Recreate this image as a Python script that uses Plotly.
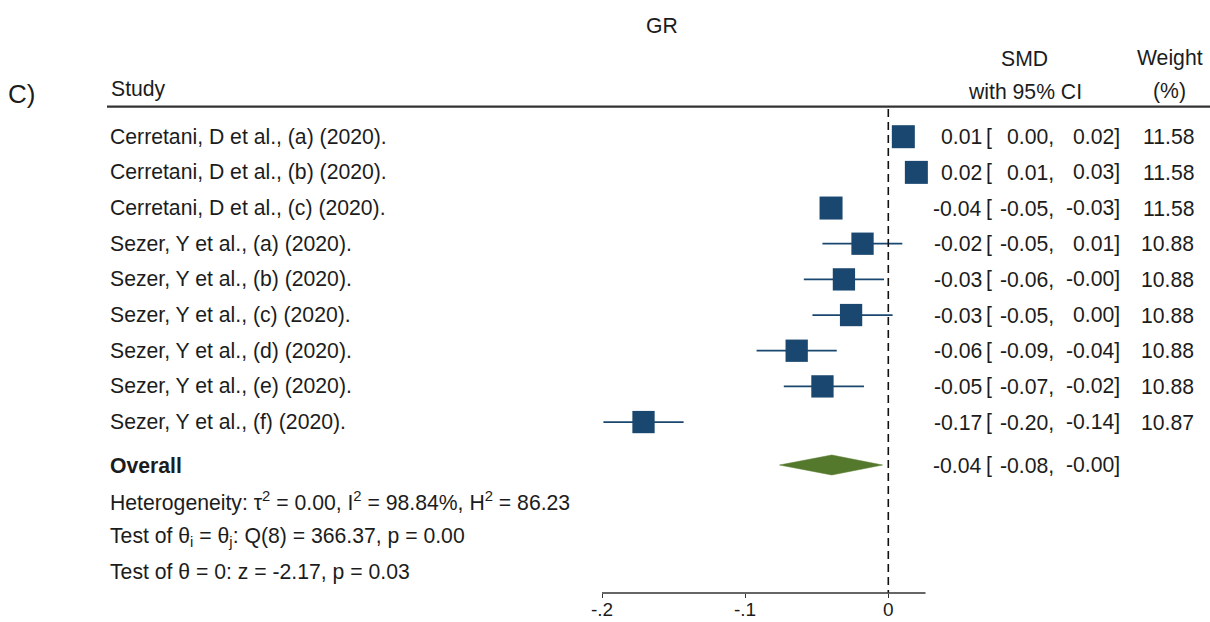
import numpy as np
import plotly.graph_objects as go

# ---------------- data ----------------
studies = [
    "Cerretani, D et al., (a) (2020).",
    "Cerretani, D et al., (b) (2020).",
    "Cerretani, D et al., (c) (2020).",
    "Sezer, Y et al., (a) (2020).",
    "Sezer, Y et al., (b) (2020).",
    "Sezer, Y et al., (c) (2020).",
    "Sezer, Y et al., (d) (2020).",
    "Sezer, Y et al., (e) (2020).",
    "Sezer, Y et al., (f) (2020).",
]
smd = [0.0105, 0.0196, -0.040, -0.018, -0.031, -0.026, -0.064, -0.046, -0.171]
ci_low = [0.004, 0.012, -0.047, -0.046, -0.059, -0.053, -0.092, -0.073, -0.199]
ci_high = [0.017, 0.027, -0.033, 0.0098, -0.003, 0.003, -0.036, -0.017, -0.143]
weights = [11.58, 11.58, 11.58, 10.88, 10.88, 10.88, 10.88, 10.88, 10.87]

overall_smd = -0.0395
overall_low = -0.076
overall_high = -0.004

tau2, i2, h2 = 0.00, 98.84, 86.23
q_stat, q_df, q_p = 366.37, 8, 0.00
z_stat, z_p = -2.17, 0.03

tick_vals = [-0.2, -0.1, 0.0]
tick_text = ["-.2", "-.1", "0"]
axis_end = 0.026

# ---------------- styling / layout constants ----------------
W, H = 1210, 622
PX_ZERO, PX_PER_UNIT = 888.3, 1431.5
ROW0_PX, ROW_STEP = 136.7, 35.67
PLOT_BOTTOM_PX = 593
NAVY = "#1a476f"
GREEN = "#55792c"
TXT = "#1c1c1c"
FONT = "Liberation Sans, Arial, sans-serif"
FS = 21.2

def row_of_px(p):
    return (p - ROW0_PX) / ROW_STEP

rows = list(range(len(studies)))
overall_row = row_of_px(465)
stat_rows = [row_of_px(501.7), row_of_px(536.7), row_of_px(571.7)]
header_line_row = row_of_px(106.7)

xr = [(0 - PX_ZERO) / PX_PER_UNIT, (W - PX_ZERO) / PX_PER_UNIT]
yr = [row_of_px(PLOT_BOTTOM_PX), row_of_px(0)]

fig = go.Figure()

# CI lines + squares
est = np.array(smd)
fig.add_trace(go.Scatter(
    x=est, y=rows, mode="markers",
    marker=dict(symbol="square", color=NAVY, opacity=1,
                size=[22.3 * np.sqrt(w / 10.88) for w in weights],
                line=dict(width=0)),
    error_x=dict(type="data", symmetric=False,
                 array=np.array(ci_high) - est,
                 arrayminus=est - np.array(ci_low),
                 width=0, thickness=1.7, color=NAVY),
    hoverinfo="skip", showlegend=False))

# overall diamond
dh = 10 / ROW_STEP
fig.add_trace(go.Scatter(
    x=[overall_low, overall_smd, overall_high, overall_smd, overall_low],
    y=[overall_row, overall_row - dh, overall_row, overall_row + dh, overall_row],
    mode="lines", fill="toself", fillcolor=GREEN,
    line=dict(color=GREEN, width=0.5),
    hoverinfo="skip", showlegend=False))

shapes = [
    # null line
    dict(type="line", xref="x", yref="y", x0=0, x1=0,
         y0=row_of_px(109), y1=yr[0],
         line=dict(color="#111", width=1.6, dash="8px,5px")),
    # header rule
    dict(type="line", xref="paper", yref="y", x0=107 / W, x1=1,
         y0=header_line_row, y1=header_line_row,
         line=dict(color="#333", width=2.2)),
    # x axis line
    dict(type="line", xref="x", yref="paper", x0=tick_vals[0], x1=axis_end,
         y0=0, y1=0, line=dict(color="#333", width=1.3)),
]

ann = []
def txt(text, xpx, row, anchor="left", size=FS, bold=False, yref="y"):
    if bold:
        text = "<b>" + text + "</b>"
    ann.append(dict(text=text, x=xpx / W, xref="paper", y=row, yref=yref,
                    xanchor=anchor, yanchor="middle", showarrow=False,
                    borderpad=0, borderwidth=0,
                    font=dict(family=FONT, size=size, color=TXT)))

# headers
txt("GR", 662, row_of_px(25), "center")
txt("C)", 8, row_of_px(94), "left", size=26)
txt("Study", 111, row_of_px(89), "left")
txt("SMD", 1024, row_of_px(58), "center")
txt("with 95% CI", 1025, row_of_px(91), "center")
txt("Weight", 1170, row_of_px(58), "center")
txt("(%)", 1169, row_of_px(91), "center")

def ci_cols(r, e, lo, hi):
    txt(f"{e:.2f}", 981.5, r, "right")
    txt("[", 986, r, "left")
    txt(f"{lo:.2f},", 1054, r, "right")
    txt(f"{hi:.2f}]", 1119.5, r, "right")

for r, name, e, lo, hi, w in zip(rows, studies, smd, ci_low, ci_high, weights):
    txt(name, 110, r, "left")
    ci_cols(r, e, lo, hi)
    txt(f"{w:.2f}", 1194, r, "right")

txt("Overall", 110, overall_row, "left", bold=True)
ci_cols(overall_row, overall_smd, overall_low, overall_high)

txt(f"Heterogeneity: \u03c4<sup>2</sup> = {tau2:.2f}, I<sup>2</sup> = {i2:.2f}%, "
    f"H<sup>2</sup> = {h2:.2f}", 110, stat_rows[0], "left")
txt(f"Test of \u03b8<sub>i</sub> = \u03b8<sub>j</sub>: Q({q_df}) = {q_stat:.2f}, "
    f"p = {q_p:.2f}", 110, stat_rows[1], "left")
txt(f"Test of \u03b8 = 0: z = {z_stat:.2f}, p = {z_p:.2f}", 110, stat_rows[2], "left")

# x tick labels (placed just under the ticks)
plot_h = PLOT_BOTTOM_PX
for tv, tt in zip(tick_vals, tick_text):
    ann.append(dict(text=tt, x=tv, xref="x", y=(plot_h - 609) / plot_h, yref="paper",
                    xanchor="center", yanchor="middle", showarrow=False,
                    borderpad=0, borderwidth=0,
                    font=dict(family=FONT, size=19, color=TXT)))

fig.update_layout(
    width=W, height=H, template="none",
    paper_bgcolor="white", plot_bgcolor="white",
    margin=dict(l=0, r=0, t=0, b=H - PLOT_BOTTOM_PX, pad=0),
    showlegend=False, shapes=shapes, annotations=ann,
    xaxis=dict(range=xr, showgrid=False, zeroline=False, showline=False,
               automargin=False, tickmode="array", tickvals=tick_vals,
               showticklabels=False, ticks="outside", ticklen=4, tickwidth=1.2,
               tickcolor="#333", fixedrange=True),
    yaxis=dict(range=yr, showgrid=False, zeroline=False, showline=False,
               showticklabels=False, ticks="", automargin=False, fixedrange=True),
)

fig.write_html("out.html", config={"displayModeBar": False})
